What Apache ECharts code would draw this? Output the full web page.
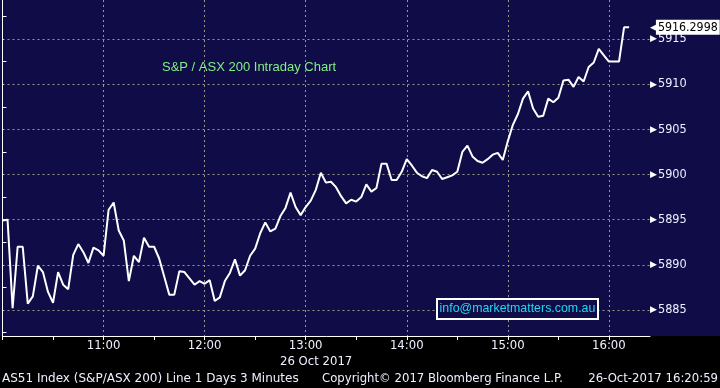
<!DOCTYPE html>
<html><head><meta charset="utf-8">
<script src="https://cdn.jsdelivr.net/npm/echarts@6/dist/echarts.min.js"></script>
<style>html,body{margin:0;padding:0;background:#000}#c{width:720px;height:388px}</style>
</head><body><div id="c"></div>
<script>
// ---- data ----
const startHour = 10;          // first sample 10:00
const stepMinutes = 3;         // 3-minute bars
const values = [
  5894.9,5895.0,5885.2,5892.0,5892.0,5885.7,5886.5,5889.9,5889.2,5887.0,
  5885.8,5889.2,5887.8,5887.3,5891.1,5892.3,5891.4,5890.2,5891.9,5891.6,
  5891.0,5896.1,5896.9,5893.8,5892.7,5888.2,5891.0,5890.3,5893.0,5892.0,
  5892.0,5890.7,5888.7,5886.7,5886.7,5889.3,5889.2,5888.5,5887.8,5888.2,
  5887.9,5888.3,5886.0,5886.4,5888.2,5889.1,5890.6,5888.8,5889.4,5891.0,
  5891.8,5893.5,5894.7,5893.7,5894.0,5895.4,5896.3,5898.0,5896.4,5895.5,
  5896.4,5897.1,5898.3,5900.2,5899.1,5899.2,5898.6,5897.6,5896.8,5897.2,
  5897.0,5897.5,5898.9,5898.1,5898.5,5901.2,5901.2,5899.4,5899.4,5900.3,
  5901.7,5901.0,5900.2,5899.8,5899.6,5900.5,5900.3,5899.5,5899.7,5899.9,
  5900.3,5902.5,5903.2,5902.0,5901.5,5901.3,5901.7,5902.2,5902.4,5901.6,
  5903.7,5905.5,5906.7,5908.4,5909.2,5907.3,5906.4,5906.5,5908.4,5908.0,
  5908.5,5910.4,5910.5,5909.7,5910.8,5910.3,5911.9,5912.4,5913.9,5913.2,
  5912.5,5912.5,5912.5,5916.2998,5916.2998
];
const hourTicks = [0,60,120,180,240,300,360];          // minutes after 10:00
const halfHourTicks = [30,90,150,210,270,330];
const priceTicks = [5885,5890,5895,5900,5905,5910,5915];
const priceMinorTicks = [5882.5,5887.5,5892.5,5897.5,5902.5,5907.5,5912.5,5917.5];
const lastLabel = '5916.2998';
const titleText = 'S&P / ASX 200 Intraday Chart';
const dateText = '26 Oct 2017';
const emailText = 'info@marketmatters.com.au';
const footerLeft = 'AS51 Index (S&P/ASX 200) Line 1 Days 3 Minutes';
const footerMid = 'Copyright\u00A9 2017 Bloomberg Finance L.P.';
const footerRight = '26-Oct-2017 16:20:59';

// ---- chart ----
const NAVY = '#100c48';
const GRIDC = '#9c9884';
const LBL = '#eef0ff';
const xMin = 0, xMax = 384.4;
const yMin = 5882.12, yMax = 5919.32;
const lastValue = values[values.length - 1];
const seriesData = values.map((v, i) => [i * stepMinutes, v]);

const chart = echarts.init(document.getElementById('c'), null, {renderer: 'canvas'});
chart.setOption({
  backgroundColor: '#000',
  animation: false,
  grid: {left: 2.5, right: 70, top: 0, bottom: 52, containLabel: false},
  xAxis: [{
    type: 'value', min: xMin, max: xMax, interval: 60,
    axisLine: {show: true, lineStyle: {color: '#fff', width: 1}},
    axisTick: {show: true, length: 4, lineStyle: {color: '#fff'}, customValues: hourTicks},
    axisLabel: {
      show: true, margin: 4, color: LBL, fontFamily: 'DejaVu Sans', fontSize: 11.7,
      customValues: hourTicks.slice(1),
      formatter: v => (v % 60 === 0 ? (startHour + v / 60) + ':00' : '')
    },
    splitLine: {show: true, lineStyle: {color: GRIDC, type: [2, 3], width: 1}}
  }, {
    type: 'value', min: xMin, max: xMax, position: 'bottom',
    axisLine: {show: false},
    axisTick: {show: true, length: 4, lineStyle: {color: '#fff'}, customValues: halfHourTicks},
    axisLabel: {show: false},
    splitLine: {show: false}
  }],
  yAxis: [{
    type: 'value', position: 'right', min: yMin, max: yMax, splitNumber: 8,
    axisLine: {show: true, lineStyle: {color: '#fff', width: 1}},
    axisTick: {show: true, length: 1, lineStyle: {color: '#fff'}, customValues: priceTicks},
    axisLabel: {
      show: true, margin: 0, customValues: priceTicks,
      formatter: v => '{t|\u25B6}{v|' + v + '}',
      rich: {
        t: {color: '#fff', fontSize: 9, fontFamily: 'DejaVu Sans', verticalAlign: 'middle', padding: [0, 1, 0, 0]},
        v: {color: LBL, fontSize: 12.6, fontFamily: 'DejaVu Sans Condensed', verticalAlign: 'middle'}
      }
    },
    splitLine: {show: true, lineStyle: {color: GRIDC, type: [2, 3], width: 1}}
  }, {
    type: 'value', position: 'right', min: yMin, max: yMax,
    axisLine: {show: false},
    axisTick: {show: true, length: 4, lineStyle: {color: '#fff'}, customValues: priceMinorTicks},
    axisLabel: {show: false},
    splitLine: {show: false}
  }],
  series: [{
    type: 'line', xAxisIndex: 0, yAxisIndex: 0,
    data: seriesData, showSymbol: false, symbol: 'none',
    lineStyle: {color: '#fff', width: 2},
    z: 3,
    markPoint: {
      silent: true, symbol: 'circle', symbolSize: 0,
      data: [{coord: [xMax, lastValue]}],
      label: {
        show: true, position: 'right', distance: 0,
        formatter: () => '{a|\u25C0}{b|' + lastLabel + '}',
        rich: {
          a: {color: '#fff', fontSize: 9, fontFamily: 'DejaVu Sans', verticalAlign: 'middle', padding: [0, -1, 0, 0]},
          b: {color: '#000', backgroundColor: '#fff', fontSize: 12.3, fontFamily: 'DejaVu Sans Condensed',
              padding: [2, 2, 1, 2], lineHeight: 13, verticalAlign: 'middle'}
        }
      }
    }
  }],
  graphic: [
    {type: 'rect', z: -100, shape: {x: 0, y: 0, width: 720, height: 336}, style: {fill: NAVY}, silent: true},
    {type: 'text', z: 10, left: 162, top: 61, style: {text: titleText, fill: '#80f080', font: '13px "Liberation Sans"'}},
    {type: 'group', z: 10, children: [
      {type: 'rect', z: 10, shape: {x: 437, y: 299, width: 161, height: 20}, style: {fill: NAVY, stroke: '#fff', lineWidth: 2}},
      {type: 'text', z: 11, x: 517.5, y: 309, style: {text: emailText, fill: '#22d8f0', font: '12.4px "Liberation Sans"', textAlign: 'center', textVerticalAlign: 'middle'}}
    ]},
    {type: 'text', z: 10, x: 280, y: 362, style: {text: dateText, fill: LBL, font: '11.7px "DejaVu Sans"', textVerticalAlign: 'middle'}},
    {type: 'text', z: 10, x: 2, y: 379, style: {text: footerLeft, fill: LBL, font: '12px "DejaVu Sans"', textVerticalAlign: 'middle'}},
    {type: 'text', z: 10, x: 322, y: 379, style: {text: footerMid, fill: LBL, font: '11.7px "DejaVu Sans"', textVerticalAlign: 'middle'}},
    {type: 'text', z: 10, x: 718, y: 379, style: {text: footerRight, fill: LBL, font: '11.7px "DejaVu Sans"', textAlign: 'right', textVerticalAlign: 'middle'}}
  ]
});
</script>
</body></html>
